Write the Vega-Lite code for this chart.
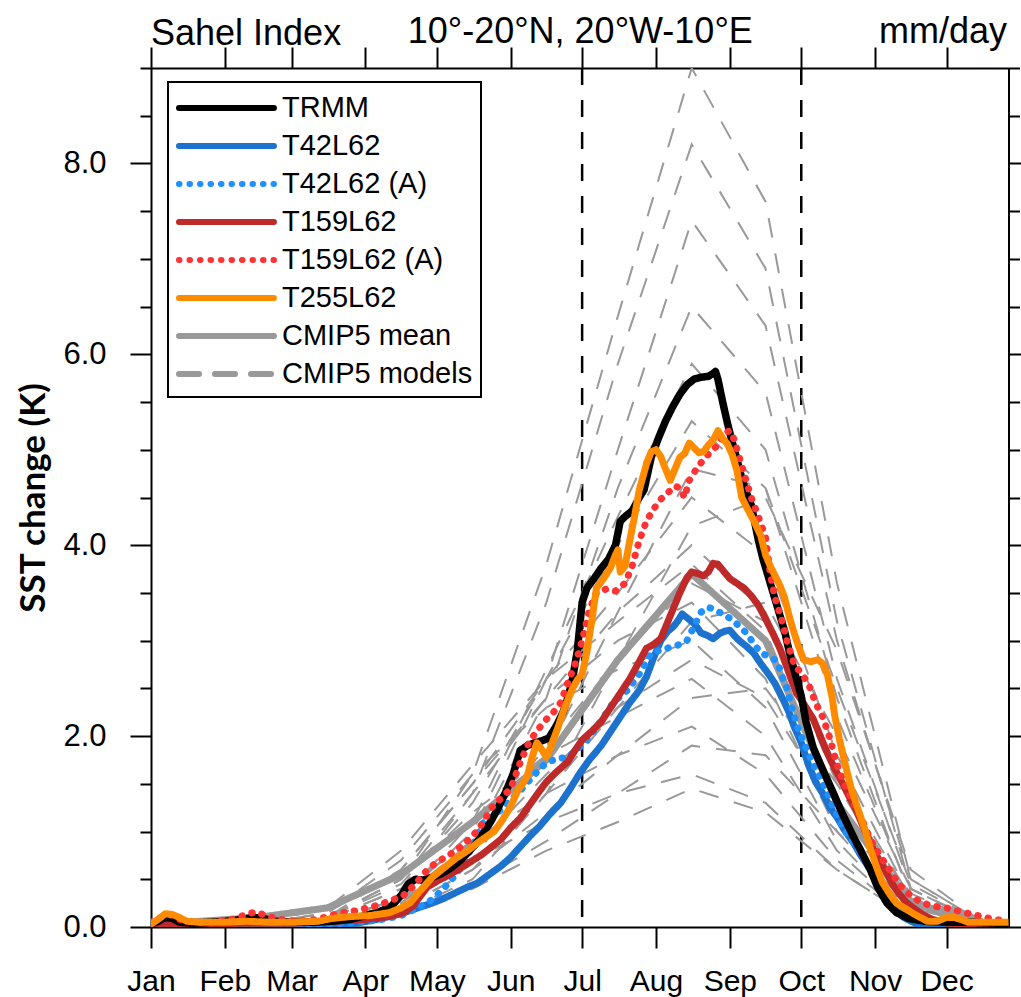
{
"$schema":"https://vega.github.io/schema/vega-lite/v6.json",
"width":857.5,"height":859,
"autosize":{"type":"none"},
"padding":{"left":151,"top":68,"right":12.5,"bottom":70},
"background":"white",
"view":{"stroke":null},
"title":{"text":"Sahel Index","anchor":"start","frame":"group","font":"Liberation Sans","fontSize":36,"fontWeight":"normal","color":"black","baseline":"alphabetic","offset":0,"dy":68},
"datasets":{
"rules":[{"day":181},{"day":273}],
"mean":[{"series":"CMIP5 mean","day":15,"value":0.05},{"series":"CMIP5 mean","day":45,"value":0.1},{"series":"CMIP5 mean","day":74,"value":0.2},{"series":"CMIP5 mean","day":105,"value":0.55},{"series":"CMIP5 mean","day":135,"value":1.1},{"series":"CMIP5 mean","day":166,"value":1.75},{"series":"CMIP5 mean","day":196,"value":2.8},{"series":"CMIP5 mean","day":227,"value":3.7},{"series":"CMIP5 mean","day":258,"value":3.0},{"series":"CMIP5 mean","day":288,"value":1.3},{"series":"CMIP5 mean","day":319,"value":0.25},{"series":"CMIP5 mean","day":349,"value":0.05}],
"models":[
{"series":"CMIP5 models","model":"M1","day":15,"value":0.02},{"series":"CMIP5 models","model":"M1","day":45,"value":0.03},{"series":"CMIP5 models","model":"M1","day":74,"value":0.1},{"series":"CMIP5 models","model":"M1","day":105,"value":0.5},{"series":"CMIP5 models","model":"M1","day":135,"value":1.6},{"series":"CMIP5 models","model":"M1","day":166,"value":3.8},{"series":"CMIP5 models","model":"M1","day":196,"value":6.4},{"series":"CMIP5 models","model":"M1","day":227,"value":9.0},{"series":"CMIP5 models","model":"M1","day":258,"value":7.6},{"series":"CMIP5 models","model":"M1","day":288,"value":3.6},{"series":"CMIP5 models","model":"M1","day":319,"value":0.5},{"series":"CMIP5 models","model":"M1","day":349,"value":0.05},
{"series":"CMIP5 models","model":"M2","day":15,"value":0.01},{"series":"CMIP5 models","model":"M2","day":45,"value":0.02},{"series":"CMIP5 models","model":"M2","day":74,"value":0.08},{"series":"CMIP5 models","model":"M2","day":105,"value":0.4},{"series":"CMIP5 models","model":"M2","day":135,"value":1.4},{"series":"CMIP5 models","model":"M2","day":166,"value":3.4},{"series":"CMIP5 models","model":"M2","day":196,"value":5.9},{"series":"CMIP5 models","model":"M2","day":227,"value":8.2},{"series":"CMIP5 models","model":"M2","day":258,"value":6.9},{"series":"CMIP5 models","model":"M2","day":288,"value":3.2},{"series":"CMIP5 models","model":"M2","day":319,"value":0.4},{"series":"CMIP5 models","model":"M2","day":349,"value":0.03},
{"series":"CMIP5 models","model":"M3","day":15,"value":0.01},{"series":"CMIP5 models","model":"M3","day":45,"value":0.01},{"series":"CMIP5 models","model":"M3","day":74,"value":0.05},{"series":"CMIP5 models","model":"M3","day":105,"value":0.3},{"series":"CMIP5 models","model":"M3","day":135,"value":1.0},{"series":"CMIP5 models","model":"M3","day":166,"value":2.6},{"series":"CMIP5 models","model":"M3","day":196,"value":5.0},{"series":"CMIP5 models","model":"M3","day":227,"value":7.4},{"series":"CMIP5 models","model":"M3","day":258,"value":6.3},{"series":"CMIP5 models","model":"M3","day":288,"value":3.0},{"series":"CMIP5 models","model":"M3","day":319,"value":0.5},{"series":"CMIP5 models","model":"M3","day":349,"value":0.05},
{"series":"CMIP5 models","model":"M4","day":15,"value":0.0},{"series":"CMIP5 models","model":"M4","day":45,"value":0.01},{"series":"CMIP5 models","model":"M4","day":74,"value":0.05},{"series":"CMIP5 models","model":"M4","day":105,"value":0.25},{"series":"CMIP5 models","model":"M4","day":135,"value":0.9},{"series":"CMIP5 models","model":"M4","day":166,"value":2.4},{"series":"CMIP5 models","model":"M4","day":196,"value":4.6},{"series":"CMIP5 models","model":"M4","day":227,"value":6.5},{"series":"CMIP5 models","model":"M4","day":258,"value":5.6},{"series":"CMIP5 models","model":"M4","day":288,"value":2.6},{"series":"CMIP5 models","model":"M4","day":319,"value":0.4},{"series":"CMIP5 models","model":"M4","day":349,"value":0.04},
{"series":"CMIP5 models","model":"M5","day":15,"value":0.0},{"series":"CMIP5 models","model":"M5","day":45,"value":0.01},{"series":"CMIP5 models","model":"M5","day":74,"value":0.06},{"series":"CMIP5 models","model":"M5","day":105,"value":0.3},{"series":"CMIP5 models","model":"M5","day":135,"value":1.1},{"series":"CMIP5 models","model":"M5","day":166,"value":2.7},{"series":"CMIP5 models","model":"M5","day":196,"value":4.3},{"series":"CMIP5 models","model":"M5","day":227,"value":5.9},{"series":"CMIP5 models","model":"M5","day":258,"value":5.0},{"series":"CMIP5 models","model":"M5","day":288,"value":2.4},{"series":"CMIP5 models","model":"M5","day":319,"value":0.3},{"series":"CMIP5 models","model":"M5","day":349,"value":0.02},
{"series":"CMIP5 models","model":"M6","day":15,"value":0.01},{"series":"CMIP5 models","model":"M6","day":45,"value":0.02},{"series":"CMIP5 models","model":"M6","day":74,"value":0.1},{"series":"CMIP5 models","model":"M6","day":105,"value":0.45},{"series":"CMIP5 models","model":"M6","day":135,"value":1.3},{"series":"CMIP5 models","model":"M6","day":166,"value":2.6},{"series":"CMIP5 models","model":"M6","day":196,"value":4.0},{"series":"CMIP5 models","model":"M6","day":227,"value":5.3},{"series":"CMIP5 models","model":"M6","day":258,"value":4.6},{"series":"CMIP5 models","model":"M6","day":288,"value":2.2},{"series":"CMIP5 models","model":"M6","day":319,"value":0.35},{"series":"CMIP5 models","model":"M6","day":349,"value":0.03},
{"series":"CMIP5 models","model":"M7","day":15,"value":0.0},{"series":"CMIP5 models","model":"M7","day":45,"value":0.0},{"series":"CMIP5 models","model":"M7","day":74,"value":0.04},{"series":"CMIP5 models","model":"M7","day":105,"value":0.2},{"series":"CMIP5 models","model":"M7","day":135,"value":0.7},{"series":"CMIP5 models","model":"M7","day":166,"value":1.8},{"series":"CMIP5 models","model":"M7","day":196,"value":3.3},{"series":"CMIP5 models","model":"M7","day":227,"value":4.8},{"series":"CMIP5 models","model":"M7","day":258,"value":4.6},{"series":"CMIP5 models","model":"M7","day":288,"value":2.5},{"series":"CMIP5 models","model":"M7","day":319,"value":0.45},{"series":"CMIP5 models","model":"M7","day":349,"value":0.04},
{"series":"CMIP5 models","model":"M8","day":15,"value":0.01},{"series":"CMIP5 models","model":"M8","day":45,"value":0.03},{"series":"CMIP5 models","model":"M8","day":74,"value":0.15},{"series":"CMIP5 models","model":"M8","day":105,"value":0.6},{"series":"CMIP5 models","model":"M8","day":135,"value":1.5},{"series":"CMIP5 models","model":"M8","day":166,"value":2.6},{"series":"CMIP5 models","model":"M8","day":196,"value":3.5},{"series":"CMIP5 models","model":"M8","day":227,"value":4.5},{"series":"CMIP5 models","model":"M8","day":258,"value":3.9},{"series":"CMIP5 models","model":"M8","day":288,"value":1.8},{"series":"CMIP5 models","model":"M8","day":319,"value":0.3},{"series":"CMIP5 models","model":"M8","day":349,"value":0.03},
{"series":"CMIP5 models","model":"M9","day":15,"value":0.0},{"series":"CMIP5 models","model":"M9","day":45,"value":0.0},{"series":"CMIP5 models","model":"M9","day":74,"value":0.03},{"series":"CMIP5 models","model":"M9","day":105,"value":0.15},{"series":"CMIP5 models","model":"M9","day":135,"value":0.5},{"series":"CMIP5 models","model":"M9","day":166,"value":1.4},{"series":"CMIP5 models","model":"M9","day":196,"value":2.8},{"series":"CMIP5 models","model":"M9","day":227,"value":4.2},{"series":"CMIP5 models","model":"M9","day":258,"value":4.5},{"series":"CMIP5 models","model":"M9","day":288,"value":2.9},{"series":"CMIP5 models","model":"M9","day":319,"value":0.6},{"series":"CMIP5 models","model":"M9","day":349,"value":0.05},
{"series":"CMIP5 models","model":"M10","day":15,"value":0.01},{"series":"CMIP5 models","model":"M10","day":45,"value":0.02},{"series":"CMIP5 models","model":"M10","day":74,"value":0.1},{"series":"CMIP5 models","model":"M10","day":105,"value":0.5},{"series":"CMIP5 models","model":"M10","day":135,"value":1.4},{"series":"CMIP5 models","model":"M10","day":166,"value":2.4},{"series":"CMIP5 models","model":"M10","day":196,"value":3.3},{"series":"CMIP5 models","model":"M10","day":227,"value":4.0},{"series":"CMIP5 models","model":"M10","day":258,"value":3.3},{"series":"CMIP5 models","model":"M10","day":288,"value":1.5},{"series":"CMIP5 models","model":"M10","day":319,"value":0.2},{"series":"CMIP5 models","model":"M10","day":349,"value":0.02},
{"series":"CMIP5 models","model":"M11","day":15,"value":0.02},{"series":"CMIP5 models","model":"M11","day":45,"value":0.04},{"series":"CMIP5 models","model":"M11","day":74,"value":0.2},{"series":"CMIP5 models","model":"M11","day":105,"value":0.8},{"series":"CMIP5 models","model":"M11","day":135,"value":1.7},{"series":"CMIP5 models","model":"M11","day":166,"value":2.6},{"series":"CMIP5 models","model":"M11","day":196,"value":3.2},{"series":"CMIP5 models","model":"M11","day":227,"value":3.8},{"series":"CMIP5 models","model":"M11","day":258,"value":3.1},{"series":"CMIP5 models","model":"M11","day":288,"value":1.3},{"series":"CMIP5 models","model":"M11","day":319,"value":0.2},{"series":"CMIP5 models","model":"M11","day":349,"value":0.02},
{"series":"CMIP5 models","model":"M12","day":15,"value":0.0},{"series":"CMIP5 models","model":"M12","day":45,"value":0.01},{"series":"CMIP5 models","model":"M12","day":74,"value":0.05},{"series":"CMIP5 models","model":"M12","day":105,"value":0.3},{"series":"CMIP5 models","model":"M12","day":135,"value":0.9},{"series":"CMIP5 models","model":"M12","day":166,"value":1.9},{"series":"CMIP5 models","model":"M12","day":196,"value":2.8},{"series":"CMIP5 models","model":"M12","day":227,"value":3.6},{"series":"CMIP5 models","model":"M12","day":258,"value":3.2},{"series":"CMIP5 models","model":"M12","day":288,"value":1.6},{"series":"CMIP5 models","model":"M12","day":319,"value":0.3},{"series":"CMIP5 models","model":"M12","day":349,"value":0.03},
{"series":"CMIP5 models","model":"M13","day":15,"value":0.01},{"series":"CMIP5 models","model":"M13","day":45,"value":0.02},{"series":"CMIP5 models","model":"M13","day":74,"value":0.1},{"series":"CMIP5 models","model":"M13","day":105,"value":0.6},{"series":"CMIP5 models","model":"M13","day":135,"value":1.5},{"series":"CMIP5 models","model":"M13","day":166,"value":2.4},{"series":"CMIP5 models","model":"M13","day":196,"value":3.0},{"series":"CMIP5 models","model":"M13","day":227,"value":3.4},{"series":"CMIP5 models","model":"M13","day":258,"value":2.6},{"series":"CMIP5 models","model":"M13","day":288,"value":1.0},{"series":"CMIP5 models","model":"M13","day":319,"value":0.15},{"series":"CMIP5 models","model":"M13","day":349,"value":0.02},
{"series":"CMIP5 models","model":"M14","day":15,"value":0.0},{"series":"CMIP5 models","model":"M14","day":45,"value":0.0},{"series":"CMIP5 models","model":"M14","day":74,"value":0.03},{"series":"CMIP5 models","model":"M14","day":105,"value":0.2},{"series":"CMIP5 models","model":"M14","day":135,"value":0.6},{"series":"CMIP5 models","model":"M14","day":166,"value":1.4},{"series":"CMIP5 models","model":"M14","day":196,"value":2.3},{"series":"CMIP5 models","model":"M14","day":227,"value":3.2},{"series":"CMIP5 models","model":"M14","day":258,"value":3.4},{"series":"CMIP5 models","model":"M14","day":288,"value":2.0},{"series":"CMIP5 models","model":"M14","day":319,"value":0.4},{"series":"CMIP5 models","model":"M14","day":349,"value":0.03},
{"series":"CMIP5 models","model":"M15","day":15,"value":0.02},{"series":"CMIP5 models","model":"M15","day":45,"value":0.03},{"series":"CMIP5 models","model":"M15","day":74,"value":0.15},{"series":"CMIP5 models","model":"M15","day":105,"value":0.7},{"series":"CMIP5 models","model":"M15","day":135,"value":1.6},{"series":"CMIP5 models","model":"M15","day":166,"value":2.3},{"series":"CMIP5 models","model":"M15","day":196,"value":2.7},{"series":"CMIP5 models","model":"M15","day":227,"value":3.0},{"series":"CMIP5 models","model":"M15","day":258,"value":2.3},{"series":"CMIP5 models","model":"M15","day":288,"value":0.9},{"series":"CMIP5 models","model":"M15","day":319,"value":0.1},{"series":"CMIP5 models","model":"M15","day":349,"value":0.01},
{"series":"CMIP5 models","model":"M16","day":15,"value":0.0},{"series":"CMIP5 models","model":"M16","day":45,"value":0.01},{"series":"CMIP5 models","model":"M16","day":74,"value":0.05},{"series":"CMIP5 models","model":"M16","day":105,"value":0.25},{"series":"CMIP5 models","model":"M16","day":135,"value":0.8},{"series":"CMIP5 models","model":"M16","day":166,"value":1.6},{"series":"CMIP5 models","model":"M16","day":196,"value":2.3},{"series":"CMIP5 models","model":"M16","day":227,"value":2.8},{"series":"CMIP5 models","model":"M16","day":258,"value":2.4},{"series":"CMIP5 models","model":"M16","day":288,"value":1.2},{"series":"CMIP5 models","model":"M16","day":319,"value":0.2},{"series":"CMIP5 models","model":"M16","day":349,"value":0.02},
{"series":"CMIP5 models","model":"M17","day":15,"value":0.01},{"series":"CMIP5 models","model":"M17","day":45,"value":0.02},{"series":"CMIP5 models","model":"M17","day":74,"value":0.1},{"series":"CMIP5 models","model":"M17","day":105,"value":0.5},{"series":"CMIP5 models","model":"M17","day":135,"value":1.2},{"series":"CMIP5 models","model":"M17","day":166,"value":1.8},{"series":"CMIP5 models","model":"M17","day":196,"value":2.2},{"series":"CMIP5 models","model":"M17","day":227,"value":2.6},{"series":"CMIP5 models","model":"M17","day":258,"value":2.0},{"series":"CMIP5 models","model":"M17","day":288,"value":0.8},{"series":"CMIP5 models","model":"M17","day":319,"value":0.1},{"series":"CMIP5 models","model":"M17","day":349,"value":0.01},
{"series":"CMIP5 models","model":"M18","day":15,"value":0.0},{"series":"CMIP5 models","model":"M18","day":45,"value":0.0},{"series":"CMIP5 models","model":"M18","day":74,"value":0.03},{"series":"CMIP5 models","model":"M18","day":105,"value":0.2},{"series":"CMIP5 models","model":"M18","day":135,"value":0.6},{"series":"CMIP5 models","model":"M18","day":166,"value":1.2},{"series":"CMIP5 models","model":"M18","day":196,"value":1.8},{"series":"CMIP5 models","model":"M18","day":227,"value":2.4},{"series":"CMIP5 models","model":"M18","day":258,"value":2.5},{"series":"CMIP5 models","model":"M18","day":288,"value":1.5},{"series":"CMIP5 models","model":"M18","day":319,"value":0.3},{"series":"CMIP5 models","model":"M18","day":349,"value":0.03},
{"series":"CMIP5 models","model":"M19","day":15,"value":0.01},{"series":"CMIP5 models","model":"M19","day":45,"value":0.02},{"series":"CMIP5 models","model":"M19","day":74,"value":0.08},{"series":"CMIP5 models","model":"M19","day":105,"value":0.4},{"series":"CMIP5 models","model":"M19","day":135,"value":0.9},{"series":"CMIP5 models","model":"M19","day":166,"value":1.4},{"series":"CMIP5 models","model":"M19","day":196,"value":1.8},{"series":"CMIP5 models","model":"M19","day":227,"value":2.1},{"series":"CMIP5 models","model":"M19","day":258,"value":1.6},{"series":"CMIP5 models","model":"M19","day":288,"value":0.7},{"series":"CMIP5 models","model":"M19","day":319,"value":0.1},{"series":"CMIP5 models","model":"M19","day":349,"value":0.01},
{"series":"CMIP5 models","model":"M20","day":15,"value":0.0},{"series":"CMIP5 models","model":"M20","day":45,"value":0.0},{"series":"CMIP5 models","model":"M20","day":74,"value":0.03},{"series":"CMIP5 models","model":"M20","day":105,"value":0.15},{"series":"CMIP5 models","model":"M20","day":135,"value":0.45},{"series":"CMIP5 models","model":"M20","day":166,"value":0.9},{"series":"CMIP5 models","model":"M20","day":196,"value":1.4},{"series":"CMIP5 models","model":"M20","day":227,"value":1.9},{"series":"CMIP5 models","model":"M20","day":258,"value":1.8},{"series":"CMIP5 models","model":"M20","day":288,"value":1.0},{"series":"CMIP5 models","model":"M20","day":319,"value":0.2},{"series":"CMIP5 models","model":"M20","day":349,"value":0.02},
{"series":"CMIP5 models","model":"M21","day":15,"value":0.01},{"series":"CMIP5 models","model":"M21","day":45,"value":0.01},{"series":"CMIP5 models","model":"M21","day":74,"value":0.05},{"series":"CMIP5 models","model":"M21","day":105,"value":0.3},{"series":"CMIP5 models","model":"M21","day":135,"value":0.7},{"series":"CMIP5 models","model":"M21","day":166,"value":1.1},{"series":"CMIP5 models","model":"M21","day":196,"value":1.4},{"series":"CMIP5 models","model":"M21","day":227,"value":1.6},{"series":"CMIP5 models","model":"M21","day":258,"value":1.3},{"series":"CMIP5 models","model":"M21","day":288,"value":0.6},{"series":"CMIP5 models","model":"M21","day":319,"value":0.1},{"series":"CMIP5 models","model":"M21","day":349,"value":0.01},
{"series":"CMIP5 models","model":"M22","day":15,"value":0.0},{"series":"CMIP5 models","model":"M22","day":45,"value":0.0},{"series":"CMIP5 models","model":"M22","day":74,"value":0.03},{"series":"CMIP5 models","model":"M22","day":105,"value":0.15},{"series":"CMIP5 models","model":"M22","day":135,"value":0.4},{"series":"CMIP5 models","model":"M22","day":166,"value":0.8},{"series":"CMIP5 models","model":"M22","day":196,"value":1.1},{"series":"CMIP5 models","model":"M22","day":227,"value":1.45},{"series":"CMIP5 models","model":"M22","day":258,"value":1.2},{"series":"CMIP5 models","model":"M22","day":288,"value":0.6},{"series":"CMIP5 models","model":"M22","day":319,"value":0.1},{"series":"CMIP5 models","model":"M22","day":349,"value":0.01}
],
"t42":[{"series":"T42L62","day":0,"value":0.01},{"series":"T42L62","day":30,"value":0.01},{"series":"T42L62","day":60,"value":0.01},{"series":"T42L62","day":84,"value":0.03},{"series":"T42L62","day":95,"value":0.08},{"series":"T42L62","day":105,"value":0.14},{"series":"T42L62","day":112,"value":0.2},{"series":"T42L62","day":118,"value":0.25},{"series":"T42L62","day":123,"value":0.3},{"series":"T42L62","day":128,"value":0.36},{"series":"T42L62","day":133,"value":0.42},{"series":"T42L62","day":137,"value":0.46},{"series":"T42L62","day":142,"value":0.55},{"series":"T42L62","day":147,"value":0.64},{"series":"T42L62","day":151,"value":0.73},{"series":"T42L62","day":155,"value":0.84},{"series":"T42L62","day":159,"value":0.95},{"series":"T42L62","day":163,"value":1.05},{"series":"T42L62","day":167,"value":1.17},{"series":"T42L62","day":172,"value":1.3},{"series":"T42L62","day":176,"value":1.45},{"series":"T42L62","day":180,"value":1.61},{"series":"T42L62","day":184,"value":1.75},{"series":"T42L62","day":189,"value":1.9},{"series":"T42L62","day":193,"value":2.05},{"series":"T42L62","day":197,"value":2.2},{"series":"T42L62","day":201,"value":2.35},{"series":"T42L62","day":205,"value":2.48},{"series":"T42L62","day":208,"value":2.62},{"series":"T42L62","day":211,"value":2.82},{"series":"T42L62","day":214,"value":3.0},{"series":"T42L62","day":217,"value":3.1},{"series":"T42L62","day":219,"value":3.14},{"series":"T42L62","day":221,"value":3.2},{"series":"T42L62","day":223,"value":3.28},{"series":"T42L62","day":225,"value":3.24},{"series":"T42L62","day":228,"value":3.18},{"series":"T42L62","day":231,"value":3.08},{"series":"T42L62","day":234,"value":3.05},{"series":"T42L62","day":236,"value":3.02},{"series":"T42L62","day":239,"value":3.08},{"series":"T42L62","day":241,"value":3.1},{"series":"T42L62","day":243,"value":3.11},{"series":"T42L62","day":245,"value":3.05},{"series":"T42L62","day":247,"value":3.0},{"series":"T42L62","day":250,"value":2.94},{"series":"T42L62","day":253,"value":2.87},{"series":"T42L62","day":256,"value":2.76},{"series":"T42L62","day":259,"value":2.66},{"series":"T42L62","day":262,"value":2.55},{"series":"T42L62","day":264,"value":2.45},{"series":"T42L62","day":266,"value":2.35},{"series":"T42L62","day":268,"value":2.24},{"series":"T42L62","day":270,"value":2.1},{"series":"T42L62","day":273,"value":1.93},{"series":"T42L62","day":276,"value":1.7},{"series":"T42L62","day":279,"value":1.52},{"series":"T42L62","day":282,"value":1.4},{"series":"T42L62","day":285,"value":1.25},{"series":"T42L62","day":288,"value":1.15},{"series":"T42L62","day":291,"value":1.02},{"series":"T42L62","day":295,"value":0.88},{"series":"T42L62","day":298,"value":0.75},{"series":"T42L62","day":302,"value":0.6},{"series":"T42L62","day":305,"value":0.45},{"series":"T42L62","day":309,"value":0.31},{"series":"T42L62","day":312,"value":0.2},{"series":"T42L62","day":316,"value":0.1},{"series":"T42L62","day":320,"value":0.05},{"series":"T42L62","day":323,"value":0.02},{"series":"T42L62","day":330,"value":0.01},{"series":"T42L62","day":345,"value":0.01},{"series":"T42L62","day":360,"value":0.01}],
"t42a":[{"series":"T42L62 (A)","day":0,"value":0.02},{"series":"T42L62 (A)","day":20,"value":0.02},{"series":"T42L62 (A)","day":40,"value":0.03},{"series":"T42L62 (A)","day":60,"value":0.03},{"series":"T42L62 (A)","day":80,"value":0.04},{"series":"T42L62 (A)","day":95,"value":0.07},{"series":"T42L62 (A)","day":105,"value":0.12},{"series":"T42L62 (A)","day":112,"value":0.2},{"series":"T42L62 (A)","day":117,"value":0.27},{"series":"T42L62 (A)","day":122,"value":0.38},{"series":"T42L62 (A)","day":127,"value":0.52},{"series":"T42L62 (A)","day":131,"value":0.65},{"series":"T42L62 (A)","day":135,"value":0.85},{"series":"T42L62 (A)","day":139,"value":1.08},{"series":"T42L62 (A)","day":143,"value":1.15},{"series":"T42L62 (A)","day":148,"value":1.25},{"series":"T42L62 (A)","day":153,"value":1.38},{"series":"T42L62 (A)","day":157,"value":1.48},{"series":"T42L62 (A)","day":160,"value":1.57},{"series":"T42L62 (A)","day":163,"value":1.65},{"series":"T42L62 (A)","day":166,"value":1.72},{"series":"T42L62 (A)","day":170,"value":1.76},{"series":"T42L62 (A)","day":175,"value":1.78},{"series":"T42L62 (A)","day":178,"value":1.84},{"series":"T42L62 (A)","day":182,"value":1.93},{"series":"T42L62 (A)","day":186,"value":2.06},{"series":"T42L62 (A)","day":190,"value":2.2},{"series":"T42L62 (A)","day":194,"value":2.35},{"series":"T42L62 (A)","day":200,"value":2.48},{"series":"T42L62 (A)","day":205,"value":2.65},{"series":"T42L62 (A)","day":210,"value":2.87},{"series":"T42L62 (A)","day":214,"value":2.9},{"series":"T42L62 (A)","day":218,"value":2.93},{"series":"T42L62 (A)","day":222,"value":2.96},{"series":"T42L62 (A)","day":225,"value":3.0},{"series":"T42L62 (A)","day":228,"value":3.15},{"series":"T42L62 (A)","day":231,"value":3.3},{"series":"T42L62 (A)","day":234,"value":3.35},{"series":"T42L62 (A)","day":237,"value":3.32},{"series":"T42L62 (A)","day":240,"value":3.28},{"series":"T42L62 (A)","day":244,"value":3.22},{"series":"T42L62 (A)","day":247,"value":3.15},{"series":"T42L62 (A)","day":250,"value":3.08},{"series":"T42L62 (A)","day":253,"value":2.97},{"series":"T42L62 (A)","day":256,"value":2.87},{"series":"T42L62 (A)","day":260,"value":2.83},{"series":"T42L62 (A)","day":263,"value":2.78},{"series":"T42L62 (A)","day":265,"value":2.62},{"series":"T42L62 (A)","day":267,"value":2.5},{"series":"T42L62 (A)","day":269,"value":2.3},{"series":"T42L62 (A)","day":272,"value":2.05},{"series":"T42L62 (A)","day":276,"value":1.82},{"series":"T42L62 (A)","day":279,"value":1.65},{"series":"T42L62 (A)","day":282,"value":1.52},{"series":"T42L62 (A)","day":286,"value":1.28},{"series":"T42L62 (A)","day":289,"value":1.12},{"series":"T42L62 (A)","day":292,"value":0.98},{"series":"T42L62 (A)","day":296,"value":0.85},{"series":"T42L62 (A)","day":299,"value":0.73},{"series":"T42L62 (A)","day":303,"value":0.58},{"series":"T42L62 (A)","day":306,"value":0.46},{"series":"T42L62 (A)","day":310,"value":0.34},{"series":"T42L62 (A)","day":313,"value":0.25},{"series":"T42L62 (A)","day":318,"value":0.16},{"series":"T42L62 (A)","day":323,"value":0.1},{"series":"T42L62 (A)","day":330,"value":0.07},{"series":"T42L62 (A)","day":340,"value":0.05},{"series":"T42L62 (A)","day":350,"value":0.04},{"series":"T42L62 (A)","day":360,"value":0.03}],
"t159":[{"series":"T159L62","day":0,"value":0.03},{"series":"T159L62","day":20,"value":0.03},{"series":"T159L62","day":40,"value":0.04},{"series":"T159L62","day":60,"value":0.04},{"series":"T159L62","day":76,"value":0.06},{"series":"T159L62","day":90,"value":0.08},{"series":"T159L62","day":100,"value":0.11},{"series":"T159L62","day":106,"value":0.15},{"series":"T159L62","day":110,"value":0.22},{"series":"T159L62","day":113,"value":0.32},{"series":"T159L62","day":116,"value":0.42},{"series":"T159L62","day":120,"value":0.48},{"series":"T159L62","day":124,"value":0.53},{"series":"T159L62","day":129,"value":0.6},{"series":"T159L62","day":134,"value":0.68},{"series":"T159L62","day":139,"value":0.76},{"series":"T159L62","day":143,"value":0.84},{"series":"T159L62","day":147,"value":0.92},{"series":"T159L62","day":151,"value":1.04},{"series":"T159L62","day":155,"value":1.14},{"series":"T159L62","day":159,"value":1.28},{"series":"T159L62","day":163,"value":1.42},{"series":"T159L62","day":166,"value":1.52},{"series":"T159L62","day":170,"value":1.62},{"series":"T159L62","day":175,"value":1.73},{"series":"T159L62","day":178,"value":1.85},{"series":"T159L62","day":181,"value":1.96},{"series":"T159L62","day":185,"value":2.05},{"series":"T159L62","day":189,"value":2.15},{"series":"T159L62","day":193,"value":2.3},{"series":"T159L62","day":197,"value":2.45},{"series":"T159L62","day":201,"value":2.6},{"series":"T159L62","day":205,"value":2.78},{"series":"T159L62","day":208,"value":2.92},{"series":"T159L62","day":211,"value":2.96},{"series":"T159L62","day":214,"value":3.02},{"series":"T159L62","day":217,"value":3.2},{"series":"T159L62","day":220,"value":3.38},{"series":"T159L62","day":222,"value":3.5},{"series":"T159L62","day":225,"value":3.66},{"series":"T159L62","day":227,"value":3.72},{"series":"T159L62","day":230,"value":3.7},{"series":"T159L62","day":232,"value":3.68},{"series":"T159L62","day":234,"value":3.72},{"series":"T159L62","day":236,"value":3.81},{"series":"T159L62","day":238,"value":3.8},{"series":"T159L62","day":240,"value":3.74},{"series":"T159L62","day":243,"value":3.65},{"series":"T159L62","day":246,"value":3.6},{"series":"T159L62","day":249,"value":3.55},{"series":"T159L62","day":252,"value":3.47},{"series":"T159L62","day":255,"value":3.37},{"series":"T159L62","day":258,"value":3.23},{"series":"T159L62","day":261,"value":3.08},{"series":"T159L62","day":264,"value":2.92},{"series":"T159L62","day":267,"value":2.72},{"series":"T159L62","day":269,"value":2.58},{"series":"T159L62","day":271,"value":2.45},{"series":"T159L62","day":273,"value":2.38},{"series":"T159L62","day":275,"value":2.3},{"series":"T159L62","day":278,"value":2.18},{"series":"T159L62","day":281,"value":2.0},{"series":"T159L62","day":284,"value":1.82},{"series":"T159L62","day":287,"value":1.66},{"series":"T159L62","day":290,"value":1.52},{"series":"T159L62","day":293,"value":1.37},{"series":"T159L62","day":296,"value":1.23},{"series":"T159L62","day":299,"value":1.05},{"series":"T159L62","day":302,"value":0.88},{"series":"T159L62","day":305,"value":0.73},{"series":"T159L62","day":308,"value":0.6},{"series":"T159L62","day":311,"value":0.46},{"series":"T159L62","day":314,"value":0.35},{"series":"T159L62","day":317,"value":0.26},{"series":"T159L62","day":320,"value":0.2},{"series":"T159L62","day":324,"value":0.13},{"series":"T159L62","day":328,"value":0.08},{"series":"T159L62","day":334,"value":0.04},{"series":"T159L62","day":345,"value":0.03},{"series":"T159L62","day":360,"value":0.03}],
"trmm":[{"series":"TRMM","day":0,"value":0.03},{"series":"TRMM","day":3,"value":0.06},{"series":"TRMM","day":6,"value":0.1},{"series":"TRMM","day":9,"value":0.09},{"series":"TRMM","day":12,"value":0.05},{"series":"TRMM","day":18,"value":0.04},{"series":"TRMM","day":25,"value":0.05},{"series":"TRMM","day":32,"value":0.06},{"series":"TRMM","day":38,"value":0.08},{"series":"TRMM","day":43,"value":0.1},{"series":"TRMM","day":47,"value":0.09},{"series":"TRMM","day":52,"value":0.06},{"series":"TRMM","day":60,"value":0.05},{"series":"TRMM","day":68,"value":0.05},{"series":"TRMM","day":76,"value":0.06},{"series":"TRMM","day":84,"value":0.08},{"series":"TRMM","day":90,"value":0.12},{"series":"TRMM","day":96,"value":0.16},{"series":"TRMM","day":101,"value":0.22},{"series":"TRMM","day":105,"value":0.33},{"series":"TRMM","day":108,"value":0.45},{"series":"TRMM","day":111,"value":0.5},{"series":"TRMM","day":114,"value":0.49},{"series":"TRMM","day":118,"value":0.52},{"series":"TRMM","day":122,"value":0.56},{"series":"TRMM","day":126,"value":0.62},{"series":"TRMM","day":130,"value":0.7},{"series":"TRMM","day":133,"value":0.78},{"series":"TRMM","day":136,"value":0.86},{"series":"TRMM","day":140,"value":1.0},{"series":"TRMM","day":143,"value":1.12},{"series":"TRMM","day":146,"value":1.26},{"series":"TRMM","day":149,"value":1.42},{"series":"TRMM","day":152,"value":1.6},{"series":"TRMM","day":155,"value":1.85},{"series":"TRMM","day":158,"value":1.9},{"series":"TRMM","day":161,"value":1.93},{"series":"TRMM","day":164,"value":1.95},{"series":"TRMM","day":167,"value":1.98},{"series":"TRMM","day":170,"value":2.1},{"series":"TRMM","day":173,"value":2.25},{"series":"TRMM","day":175,"value":2.4},{"series":"TRMM","day":177,"value":2.6},{"series":"TRMM","day":179,"value":2.9},{"series":"TRMM","day":181,"value":3.4},{"series":"TRMM","day":183,"value":3.55},{"series":"TRMM","day":186,"value":3.65},{"series":"TRMM","day":189,"value":3.76},{"series":"TRMM","day":192,"value":3.85},{"series":"TRMM","day":195,"value":4.0},{"series":"TRMM","day":197,"value":4.25},{"series":"TRMM","day":199,"value":4.3},{"series":"TRMM","day":202,"value":4.36},{"series":"TRMM","day":205,"value":4.5},{"series":"TRMM","day":207,"value":4.58},{"series":"TRMM","day":210,"value":4.92},{"series":"TRMM","day":213,"value":5.12},{"series":"TRMM","day":216,"value":5.3},{"series":"TRMM","day":219,"value":5.45},{"series":"TRMM","day":222,"value":5.58},{"series":"TRMM","day":225,"value":5.68},{"series":"TRMM","day":228,"value":5.74},{"series":"TRMM","day":231,"value":5.76},{"series":"TRMM","day":234,"value":5.77},{"series":"TRMM","day":236,"value":5.8},{"series":"TRMM","day":237,"value":5.82},{"series":"TRMM","day":238,"value":5.74},{"series":"TRMM","day":240,"value":5.5},{"series":"TRMM","day":242,"value":5.28},{"series":"TRMM","day":244,"value":5.08},{"series":"TRMM","day":246,"value":4.9},{"series":"TRMM","day":248,"value":4.7},{"series":"TRMM","day":250,"value":4.55},{"series":"TRMM","day":252,"value":4.42},{"series":"TRMM","day":255,"value":4.05},{"series":"TRMM","day":257,"value":3.85},{"series":"TRMM","day":260,"value":3.6},{"series":"TRMM","day":263,"value":3.35},{"series":"TRMM","day":266,"value":3.1},{"series":"TRMM","day":268,"value":2.88},{"series":"TRMM","day":271,"value":2.6},{"series":"TRMM","day":273,"value":2.42},{"series":"TRMM","day":275,"value":2.15},{"series":"TRMM","day":278,"value":1.88},{"series":"TRMM","day":282,"value":1.65},{"series":"TRMM","day":286,"value":1.43},{"series":"TRMM","day":290,"value":1.2},{"series":"TRMM","day":295,"value":0.94},{"series":"TRMM","day":298,"value":0.8},{"series":"TRMM","day":302,"value":0.6},{"series":"TRMM","day":305,"value":0.42},{"series":"TRMM","day":309,"value":0.25},{"series":"TRMM","day":313,"value":0.15},{"series":"TRMM","day":318,"value":0.09},{"series":"TRMM","day":325,"value":0.06},{"series":"TRMM","day":335,"value":0.05},{"series":"TRMM","day":345,"value":0.05},{"series":"TRMM","day":355,"value":0.04},{"series":"TRMM","day":360,"value":0.03}],
"t159a":[{"series":"T159L62 (A)","day":0,"value":0.05},{"series":"T159L62 (A)","day":4,"value":0.1},{"series":"T159L62 (A)","day":8,"value":0.13},{"series":"T159L62 (A)","day":12,"value":0.08},{"series":"T159L62 (A)","day":18,"value":0.05},{"series":"T159L62 (A)","day":26,"value":0.05},{"series":"T159L62 (A)","day":34,"value":0.08},{"series":"T159L62 (A)","day":40,"value":0.13},{"series":"T159L62 (A)","day":44,"value":0.16},{"series":"T159L62 (A)","day":48,"value":0.12},{"series":"T159L62 (A)","day":54,"value":0.08},{"series":"T159L62 (A)","day":62,"value":0.06},{"series":"T159L62 (A)","day":70,"value":0.08},{"series":"T159L62 (A)","day":78,"value":0.14},{"series":"T159L62 (A)","day":86,"value":0.17},{"series":"T159L62 (A)","day":94,"value":0.22},{"series":"T159L62 (A)","day":100,"value":0.27},{"series":"T159L62 (A)","day":106,"value":0.33},{"series":"T159L62 (A)","day":111,"value":0.45},{"series":"T159L62 (A)","day":116,"value":0.6},{"series":"T159L62 (A)","day":120,"value":0.68},{"series":"T159L62 (A)","day":125,"value":0.75},{"series":"T159L62 (A)","day":130,"value":0.84},{"series":"T159L62 (A)","day":135,"value":0.95},{"series":"T159L62 (A)","day":139,"value":1.08},{"series":"T159L62 (A)","day":143,"value":1.25},{"series":"T159L62 (A)","day":147,"value":1.35},{"series":"T159L62 (A)","day":151,"value":1.45},{"series":"T159L62 (A)","day":155,"value":1.72},{"series":"T159L62 (A)","day":158,"value":1.9},{"series":"T159L62 (A)","day":161,"value":2.02},{"series":"T159L62 (A)","day":165,"value":2.15},{"series":"T159L62 (A)","day":169,"value":2.25},{"series":"T159L62 (A)","day":172,"value":2.35},{"series":"T159L62 (A)","day":175,"value":2.56},{"series":"T159L62 (A)","day":178,"value":2.75},{"series":"T159L62 (A)","day":181,"value":3.0},{"series":"T159L62 (A)","day":184,"value":3.32},{"series":"T159L62 (A)","day":187,"value":3.5},{"series":"T159L62 (A)","day":191,"value":3.54},{"series":"T159L62 (A)","day":195,"value":3.52},{"series":"T159L62 (A)","day":199,"value":3.6},{"series":"T159L62 (A)","day":202,"value":3.78},{"series":"T159L62 (A)","day":205,"value":4.05},{"series":"T159L62 (A)","day":208,"value":4.25},{"series":"T159L62 (A)","day":211,"value":4.38},{"series":"T159L62 (A)","day":214,"value":4.48},{"series":"T159L62 (A)","day":217,"value":4.55},{"series":"T159L62 (A)","day":220,"value":4.62},{"series":"T159L62 (A)","day":222,"value":4.6},{"series":"T159L62 (A)","day":224,"value":4.5},{"series":"T159L62 (A)","day":226,"value":4.68},{"series":"T159L62 (A)","day":229,"value":4.8},{"series":"T159L62 (A)","day":232,"value":4.9},{"series":"T159L62 (A)","day":235,"value":4.98},{"series":"T159L62 (A)","day":238,"value":5.05},{"series":"T159L62 (A)","day":241,"value":5.18},{"series":"T159L62 (A)","day":243,"value":5.2},{"series":"T159L62 (A)","day":245,"value":5.1},{"series":"T159L62 (A)","day":247,"value":4.92},{"series":"T159L62 (A)","day":249,"value":4.75},{"series":"T159L62 (A)","day":252,"value":4.5},{"series":"T159L62 (A)","day":255,"value":4.3},{"series":"T159L62 (A)","day":258,"value":4.08},{"series":"T159L62 (A)","day":260,"value":3.7},{"series":"T159L62 (A)","day":262,"value":3.45},{"series":"T159L62 (A)","day":265,"value":3.2},{"series":"T159L62 (A)","day":267,"value":3.0},{"series":"T159L62 (A)","day":270,"value":2.75},{"series":"T159L62 (A)","day":273,"value":2.66},{"series":"T159L62 (A)","day":276,"value":2.55},{"series":"T159L62 (A)","day":279,"value":2.35},{"series":"T159L62 (A)","day":282,"value":2.2},{"series":"T159L62 (A)","day":285,"value":1.98},{"series":"T159L62 (A)","day":288,"value":1.7},{"series":"T159L62 (A)","day":291,"value":1.5},{"series":"T159L62 (A)","day":295,"value":1.3},{"series":"T159L62 (A)","day":298,"value":1.15},{"series":"T159L62 (A)","day":302,"value":0.92},{"series":"T159L62 (A)","day":306,"value":0.75},{"series":"T159L62 (A)","day":310,"value":0.6},{"series":"T159L62 (A)","day":314,"value":0.45},{"series":"T159L62 (A)","day":318,"value":0.35},{"series":"T159L62 (A)","day":323,"value":0.26},{"series":"T159L62 (A)","day":328,"value":0.22},{"series":"T159L62 (A)","day":334,"value":0.2},{"series":"T159L62 (A)","day":340,"value":0.16},{"series":"T159L62 (A)","day":347,"value":0.12},{"series":"T159L62 (A)","day":354,"value":0.08},{"series":"T159L62 (A)","day":360,"value":0.06}],
"t255":[{"series":"T255L62","day":0,"value":0.03},{"series":"T255L62","day":3,"value":0.08},{"series":"T255L62","day":6,"value":0.14},{"series":"T255L62","day":9,"value":0.13},{"series":"T255L62","day":12,"value":0.1},{"series":"T255L62","day":15,"value":0.06},{"series":"T255L62","day":20,"value":0.05},{"series":"T255L62","day":30,"value":0.05},{"series":"T255L62","day":40,"value":0.06},{"series":"T255L62","day":50,"value":0.05},{"series":"T255L62","day":60,"value":0.05},{"series":"T255L62","day":70,"value":0.06},{"series":"T255L62","day":76,"value":0.09},{"series":"T255L62","day":84,"value":0.11},{"series":"T255L62","day":92,"value":0.12},{"series":"T255L62","day":100,"value":0.15},{"series":"T255L62","day":105,"value":0.2},{"series":"T255L62","day":109,"value":0.26},{"series":"T255L62","day":113,"value":0.38},{"series":"T255L62","day":118,"value":0.52},{"series":"T255L62","day":123,"value":0.62},{"series":"T255L62","day":128,"value":0.72},{"series":"T255L62","day":133,"value":0.8},{"series":"T255L62","day":137,"value":0.88},{"series":"T255L62","day":141,"value":0.95},{"series":"T255L62","day":144,"value":1.0},{"series":"T255L62","day":147,"value":1.1},{"series":"T255L62","day":150,"value":1.22},{"series":"T255L62","day":152,"value":1.32},{"series":"T255L62","day":154,"value":1.43},{"series":"T255L62","day":156,"value":1.5},{"series":"T255L62","day":158,"value":1.58},{"series":"T255L62","day":160,"value":1.78},{"series":"T255L62","day":162,"value":1.93},{"series":"T255L62","day":164,"value":1.86},{"series":"T255L62","day":166,"value":1.78},{"series":"T255L62","day":168,"value":1.9},{"series":"T255L62","day":171,"value":2.1},{"series":"T255L62","day":173,"value":2.25},{"series":"T255L62","day":175,"value":2.38},{"series":"T255L62","day":177,"value":2.5},{"series":"T255L62","day":179,"value":2.59},{"series":"T255L62","day":181,"value":2.65},{"series":"T255L62","day":183,"value":2.88},{"series":"T255L62","day":185,"value":3.2},{"series":"T255L62","day":187,"value":3.55},{"series":"T255L62","day":190,"value":3.65},{"series":"T255L62","day":193,"value":3.77},{"series":"T255L62","day":195,"value":3.9},{"series":"T255L62","day":196,"value":3.95},{"series":"T255L62","day":197,"value":3.72},{"series":"T255L62","day":199,"value":3.78},{"series":"T255L62","day":201,"value":4.05},{"series":"T255L62","day":203,"value":4.3},{"series":"T255L62","day":205,"value":4.58},{"series":"T255L62","day":208,"value":4.85},{"series":"T255L62","day":210,"value":4.98},{"series":"T255L62","day":212,"value":5.0},{"series":"T255L62","day":214,"value":4.93},{"series":"T255L62","day":216,"value":4.8},{"series":"T255L62","day":218,"value":4.68},{"series":"T255L62","day":220,"value":4.8},{"series":"T255L62","day":222,"value":4.92},{"series":"T255L62","day":224,"value":4.96},{"series":"T255L62","day":226,"value":5.07},{"series":"T255L62","day":228,"value":5.02},{"series":"T255L62","day":230,"value":4.97},{"series":"T255L62","day":232,"value":4.98},{"series":"T255L62","day":234,"value":5.05},{"series":"T255L62","day":236,"value":5.1},{"series":"T255L62","day":238,"value":5.2},{"series":"T255L62","day":240,"value":5.12},{"series":"T255L62","day":242,"value":5.06},{"series":"T255L62","day":244,"value":4.95},{"series":"T255L62","day":246,"value":4.78},{"series":"T255L62","day":248,"value":4.5},{"series":"T255L62","day":250,"value":4.4},{"series":"T255L62","day":253,"value":4.26},{"series":"T255L62","day":256,"value":4.1},{"series":"T255L62","day":258,"value":3.9},{"series":"T255L62","day":260,"value":3.78},{"series":"T255L62","day":262,"value":3.68},{"series":"T255L62","day":264,"value":3.58},{"series":"T255L62","day":266,"value":3.45},{"series":"T255L62","day":268,"value":3.25},{"series":"T255L62","day":270,"value":3.08},{"series":"T255L62","day":272,"value":2.93},{"series":"T255L62","day":274,"value":2.8},{"series":"T255L62","day":277,"value":2.78},{"series":"T255L62","day":280,"value":2.8},{"series":"T255L62","day":282,"value":2.76},{"series":"T255L62","day":284,"value":2.64},{"series":"T255L62","day":286,"value":2.4},{"series":"T255L62","day":287,"value":2.22},{"series":"T255L62","day":289,"value":1.97},{"series":"T255L62","day":291,"value":1.75},{"series":"T255L62","day":294,"value":1.45},{"series":"T255L62","day":297,"value":1.22},{"series":"T255L62","day":300,"value":1.0},{"series":"T255L62","day":302,"value":0.82},{"series":"T255L62","day":305,"value":0.6},{"series":"T255L62","day":307,"value":0.47},{"series":"T255L62","day":310,"value":0.35},{"series":"T255L62","day":313,"value":0.25},{"series":"T255L62","day":317,"value":0.19},{"series":"T255L62","day":320,"value":0.14},{"series":"T255L62","day":323,"value":0.1},{"series":"T255L62","day":326,"value":0.06},{"series":"T255L62","day":330,"value":0.06},{"series":"T255L62","day":334,"value":0.1},{"series":"T255L62","day":337,"value":0.1},{"series":"T255L62","day":340,"value":0.08},{"series":"T255L62","day":343,"value":0.05},{"series":"T255L62","day":350,"value":0.05},{"series":"T255L62","day":360,"value":0.05}]
},
"encoding":{
"color":{"field":"series","type":"nominal",
 "scale":{"domain":["TRMM","T42L62","T42L62 (A)","T159L62","T159L62 (A)","T255L62","CMIP5 mean","CMIP5 models"],"range":["#000000","#1C72CC","#1E90FF","#BE2A2A","#FF3333","#FF8C00","#999999","#999999"]},
 "legend":{"orient":"none","legendX":17,"legendY":14,"title":null,"padding":8,"strokeColor":"black","fillColor":"white","symbolType":"M-1,0H5.33","symbolSize":900,"symbolStrokeWidth":6,"labelFont":"Liberation Sans","labelFontSize":29,"labelColor":"black","labelOffset":70,"labelLimit":400,"rowPadding":5,
  "encode":{"symbols":{"update":{"strokeWidth":{"value":6},"strokeCap":{"value":"round"}}},"legend":{"update":{"strokeWidth":{"value":2}}}}}},
"strokeDash":{"field":"series","type":"nominal",
 "scale":{"domain":["TRMM","T42L62","T42L62 (A)","T159L62","T159L62 (A)","T255L62","CMIP5 mean","CMIP5 models"],"range":[[1,0],[1,0],[0.5,10],[1,0],[0.5,10],[1,0],[1,0],[20,16]]},
 "legend":{"orient":"none","legendX":17,"legendY":14,"title":null,"padding":8,"strokeColor":"black","fillColor":"white","symbolType":"M-1,0H5.33","symbolSize":900,"symbolStrokeWidth":6,"labelFont":"Liberation Sans","labelFontSize":29,"labelColor":"black","labelOffset":70,"labelLimit":400,"rowPadding":5,
  "encode":{"symbols":{"update":{"strokeWidth":{"value":6},"strokeCap":{"value":"round"}}},"legend":{"update":{"strokeWidth":{"value":2}}}}}}
},
"layer":[
{"data":{"name":"rules"},"mark":{"type":"rule","strokeWidth":2.5},
 "encoding":{"x":{"field":"day","type":"quantitative","scale":{"domain":[0,360],"nice":false,"zero":false},"axis":null},"color":{"value":"black"},"strokeDash":{"value":[17,15]}}},
{"data":{"name":"models"},"mark":{"type":"line","strokeWidth":2,"clip":true},
 "encoding":{
  "x":{"field":"day","type":"quantitative","scale":{"domain":[0,360],"nice":false,"zero":false},
   "axis":{"orient":"bottom","values":[0,31,59,90,120,151,181,212,243,273,304,334],"labelExpr":"timeFormat(datetime(2001,0,1+datum.value),'%b')","title":null,"grid":false,"tickSize":21,"tickWidth":2,"tickColor":"black","domainColor":"black","domainWidth":2,"labelFont":"Liberation Sans","labelFontSize":30,"labelColor":"black","labelPadding":18,"labelFlush":false,"labelOverlap":false}},
  "y":{"field":"value","type":"quantitative","scale":{"domain":[0,9],"nice":false,"zero":false},
   "axis":{"orient":"left","values":[0,0.5,1,1.5,2,2.5,3,3.5,4,4.5,5,5.5,6,6.5,7,7.5,8,8.5,9],"labelExpr":"datum.value % 2 == 0 ? format(datum.value,'.1f') : ''","tickSize":{"condition":{"test":"datum.value % 2 == 0","value":21},"value":11},"tickWidth":2,"tickColor":"black","domainColor":"black","domainWidth":2,"grid":false,"labelFont":"Liberation Sans","labelFontSize":31,"labelColor":"black","labelPadding":24,"labelOverlap":false,"labelFlush":false,"title":"SST change (K)","titleFont":"Lato","titleFontSize":35,"titleFontWeight":"bold","titleColor":"black","titlePadding":11}},
  "detail":{"field":"model"}}},
{"data":{"name":"mean"},"mark":{"type":"line","strokeWidth":7,"strokeCap":"round","strokeJoin":"round","clip":true},
 "encoding":{
  "x":{"field":"day","type":"quantitative","scale":{"domain":[0,360],"nice":false,"zero":false},
   "axis":{"orient":"top","values":[0,31,59,90,120,151,181,212,243,273,304,334],"labels":false,"grid":false,"tickSize":21,"tickWidth":2,"tickColor":"black","domainColor":"black","domainWidth":2,"title":"10°-20°N, 20°W-10°E","titleFont":"Liberation Sans","titleFontSize":36,"titleFontWeight":"normal","titleColor":"black","titleY":-26,"titleBaseline":"alphabetic"}},
  "y":{"field":"value","type":"quantitative","scale":{"domain":[0,9],"nice":false,"zero":false},
   "axis":{"orient":"right","values":[0,0.5,1,1.5,2,2.5,3,3.5,4,4.5,5,5.5,6,6.5,7,7.5,8,8.5,9],"labels":false,"tickSize":{"condition":{"test":"datum.value % 2 == 0","value":21},"value":11},"tickWidth":2,"tickColor":"black","domainColor":"black","domainWidth":2,"grid":false,"title":"mm/day","titleFont":"Liberation Sans","titleFontSize":36,"titleFontWeight":"normal","titleColor":"black","titleAngle":0,"titleX":-2,"titleY":-26,"titleAlign":"right","titleBaseline":"alphabetic"}}}},
{"data":{"name":"t42"},"mark":{"type":"line","strokeWidth":7,"strokeCap":"round","strokeJoin":"round","clip":true},
 "encoding":{"x":{"field":"day","type":"quantitative","scale":{"domain":[0,360],"nice":false,"zero":false},"axis":null},"y":{"field":"value","type":"quantitative","scale":{"domain":[0,9],"nice":false,"zero":false},"axis":null}}},
{"data":{"name":"t42a"},"mark":{"type":"line","strokeWidth":7,"strokeCap":"round","strokeJoin":"round","clip":true},
 "encoding":{"x":{"field":"day","type":"quantitative","scale":{"domain":[0,360],"nice":false,"zero":false},"axis":null},"y":{"field":"value","type":"quantitative","scale":{"domain":[0,9],"nice":false,"zero":false},"axis":null}}},
{"data":{"name":"t159"},"mark":{"type":"line","strokeWidth":7,"strokeCap":"round","strokeJoin":"round","clip":true},
 "encoding":{"x":{"field":"day","type":"quantitative","scale":{"domain":[0,360],"nice":false,"zero":false},"axis":null},"y":{"field":"value","type":"quantitative","scale":{"domain":[0,9],"nice":false,"zero":false},"axis":null}}},
{"data":{"name":"trmm"},"mark":{"type":"line","strokeWidth":7.5,"strokeCap":"round","strokeJoin":"round","clip":true},
 "encoding":{"x":{"field":"day","type":"quantitative","scale":{"domain":[0,360],"nice":false,"zero":false},"axis":null},"y":{"field":"value","type":"quantitative","scale":{"domain":[0,9],"nice":false,"zero":false},"axis":null}}},
{"data":{"name":"t159a"},"mark":{"type":"line","strokeWidth":7,"strokeCap":"round","strokeJoin":"round","clip":true},
 "encoding":{"x":{"field":"day","type":"quantitative","scale":{"domain":[0,360],"nice":false,"zero":false},"axis":null},"y":{"field":"value","type":"quantitative","scale":{"domain":[0,9],"nice":false,"zero":false},"axis":null}}},
{"data":{"name":"t255"},"mark":{"type":"line","strokeWidth":7,"strokeCap":"round","strokeJoin":"round","clip":true},
 "encoding":{"x":{"field":"day","type":"quantitative","scale":{"domain":[0,360],"nice":false,"zero":false},"axis":null},"y":{"field":"value","type":"quantitative","scale":{"domain":[0,9],"nice":false,"zero":false},"axis":null}}}
],
"resolve":{"scale":{"x":"shared","y":"shared"},"axis":{"x":"independent","y":"independent"}}
}
